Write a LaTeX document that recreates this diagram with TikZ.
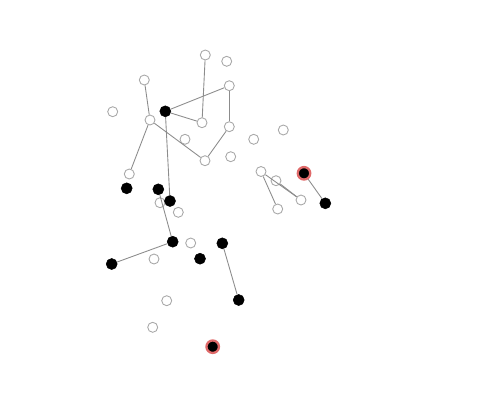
\documentclass[tikz,border=0pt]{standalone}
\usepackage{tikz}
\usepackage{xcolor}
\definecolor{grisborde}{HTML}{A8A8A8}
\definecolor{grisarista}{HTML}{8C8C8C}
\definecolor{rojoanillo}{HTML}{E06A6A}

\begin{document}
\begin{tikzpicture}[x=0.02cm,y=-0.02cm,
    vacio/.style={circle,draw=grisborde,fill=white,line width=0.5pt,
      inner sep=0pt,minimum size=0.2cm},
    negro/.style={circle,fill=black,draw=black,line width=0.3pt,
      inner sep=0pt,minimum size=0.22cm},
    marcado/.style={negro,draw=rojoanillo,line width=1.3pt,minimum size=0.25cm},
    arista/.style={draw=grisarista,line width=0.5pt}]
    \useasboundingbox (0,0) rectangle (500,400);

    % nodos vacios
    \foreach \nombre/\x/\y in {b1/205.3/55,b2/226.7/61.3,b3/144.3/80,
        b4/229.3/85.7,b5/112.7/111.7,b6/150/120,b7/202/122.7,
        b8/229.3/126.7,b9/283.3/130,b10/185/139.3,b11/253.7/139.3,
        b12/205/160.7,b13/230.7/156.7,b14/129.3/174,b15/261/171.5,
        b16/276/180.7,b17/160/202.7,b18/301/200,b19/178.3/212.3,
        b20/277.7/209,b21/190.7/243,b22/154/259,b23/166.7/300.7,
        b24/152.7/327.3} {
      \node[vacio] (\nombre) at (\x,\y) {};
    }

    % nodos llenos
    \foreach \nombre/\x/\y in {n1/165.3/111.3,n2/126.7/188.3,n3/158.3/189.3,
        n4/170/201,n5/325.3/203.3,n6/172.7/241.7,n7/222.3/243.3,
        n8/200/258.7,n9/111.7/264,n10/238.7/300} {
      \node[negro] (\nombre) at (\x,\y) {};
    }
    \node[marcado] (r1) at (304,173.3) {};
    \node[marcado] (r2) at (212.7,346.7) {};

    % aristas
    \foreach \a/\b in {b3/b6,b6/b14,b6/b12,b12/b8,b8/b4,b4/n1,n1/b7,
        b7/b1,n1/n4,n3/n6,n6/n9,n7/n10,b15/b20,b15/b18,b16/b18,r1/n5} {
      \draw[arista] (\a) -- (\b);
    }
  \end{tikzpicture}
\end{document}
